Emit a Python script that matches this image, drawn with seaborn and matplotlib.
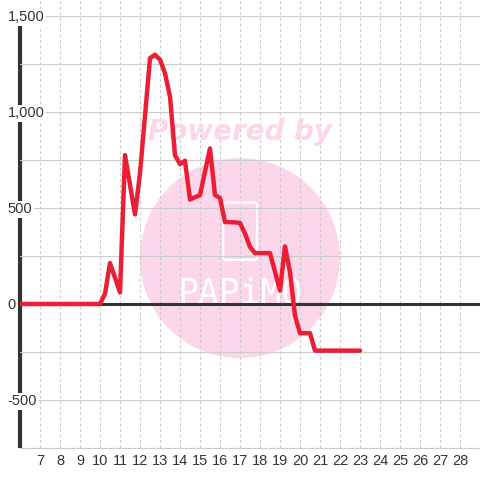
import pandas as pd
import matplotlib
matplotlib.use("Agg")
import matplotlib.pyplot as plt
import matplotlib.patches as mpatches
import matplotlib.transforms as mtrans
import seaborn as sns

# hour of day / power value
hours = [6.0, 10.0, 10.25, 10.5, 10.75, 11.0, 11.25, 11.5, 11.75, 12.0, 12.25,
         12.5, 12.75, 13.0, 13.25, 13.5, 13.75, 14.0, 14.25, 14.5, 14.75,
         15.0, 15.25, 15.5, 15.75, 16.0, 16.25, 16.5, 16.75, 17.0, 17.25,
         17.5, 17.75, 18.0, 18.25, 18.5, 18.75, 19.0, 19.25, 19.5, 19.75,
         20.0, 20.25, 20.5, 20.75, 21.0, 21.5, 22.0, 22.5, 23.0]
power = [0, 0, 53, 213, 137, 60, 775, 620, 467, 681, 980,
         1280, 1298, 1272, 1202, 1080, 775, 728, 746, 544, 556,
         567, 690, 810, 567, 552, 427, 426, 425, 422, 367,
         297, 265, 265, 265, 265, 168, 70, 300, 166, -60,
         -152, -152, -152, -243, -243, -243, -243, -243, -243]

x_ticks = list(range(7, 29))
y_major = [-500, 0, 500, 1000, 1500]
y_minor = [-750, -250, 250, 750, 1250]

df = pd.DataFrame({"hour": hours, "power": power})

sns.set_style("white")
plt.rcParams["font.family"] = ["Liberation Sans", "DejaVu Sans"]

fig = plt.figure(figsize=(4.8, 4.8), dpi=100)
ax = fig.add_axes([20 / 480, 32 / 480, 460 / 480, 448 / 480])
ax.set_facecolor("white")

# watermark
ax.add_patch(mpatches.Ellipse((0.478, 0.424), 200 / 460, 200 / 448, transform=ax.transAxes,
                              facecolor="#fcd6ea", edgecolor="none", zorder=0.5))
ax.text(0.478, 0.705, "Powered by", transform=ax.transAxes, ha="center", va="center",
        fontsize=20, fontweight="bold", fontstyle="italic", color="#fcd6ea",
        family="DejaVu Sans", zorder=0.6)
ax.add_patch(mpatches.FancyBboxPatch((0.447, 0.425), 0.063, 0.118, transform=ax.transAxes,
                                     boxstyle="round,pad=0.005", facecolor="none",
                                     edgecolor="white", lw=1.5, zorder=0.6))
ax.text(0.478, 0.345, "PAPiMO", transform=ax.transAxes, ha="center", va="center",
        fontsize=25, color="white", family="DejaVu Sans Mono", fontweight="light", zorder=0.6)

sns.lineplot(data=df, x="hour", y="power", ax=ax, color="#eb1e36", lw=3.2,
             zorder=3, legend=False)

ax.set_xlim(6, 29)
ax.set_ylim(-750, 1583)
ax.set_xticks(x_ticks)
ax.set_xticklabels([str(t) for t in x_ticks])
ax.set_yticks(y_major)
ax.set_yticks(y_minor, minor=True)
ax.set_yticklabels([f"{v:,}" for v in y_major])

ax.grid(axis="y", which="both", color="#cccccc", lw=0.8, ls="-")
ax.grid(axis="x", which="major", color="#c8c8c8", lw=0.8, ls=(0, (2.5, 2.5)))
ax.yaxis.set_zorder(2)

ax.tick_params(axis="x", length=0, pad=4, labelsize=10.5, labelcolor="#333333")
ax.tick_params(axis="y", which="both", length=0, pad=9, labelsize=10.5, labelcolor="#333333")
for lab in ax.get_yticklabels():
    lab.set_horizontalalignment("left")
    lab.set_bbox(dict(facecolor="white", edgecolor="none", pad=1.0))

for side in ["top", "right", "left"]:
    ax.spines[side].set_visible(False)
ax.spines["bottom"].set_color("#cccccc")
ax.spines["bottom"].set_linewidth(0.8)

# thick left axis line and zero line
trans = mtrans.blended_transform_factory(ax.transAxes, ax.transData)
ax.plot([0, 0], [-750, 1458], transform=trans, color="#333333", lw=3,
        clip_on=False, zorder=1.8, solid_capstyle="butt")
ax.axhline(0, color="#333333", lw=2.2, zorder=2.5)

ax.set_xlabel("")
ax.set_ylabel("")

fig.savefig("out.png", dpi=100)
